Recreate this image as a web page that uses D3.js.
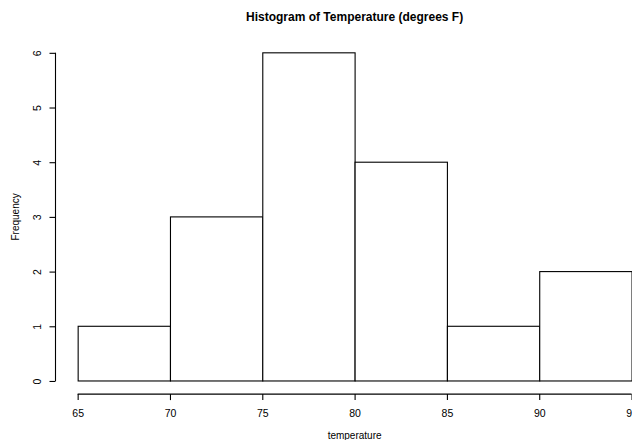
<!DOCTYPE html>
<html><head><meta charset="utf-8">
<script src="https://cdn.jsdelivr.net/npm/d3@7"></script>
<style>body{margin:0;background:#fff}svg{display:block}text{font-family:"Liberation Sans",Arial,sans-serif}</style>
</head><body>
<script>
const binStarts = [65, 70, 75, 80, 85, 90];
const binEnds = [70, 75, 80, 85, 90, 95];
const counts = [1, 3, 6, 4, 1, 2];
const xTicks = [65, 70, 75, 80, 85, 90, 95];
const yTicks = [0, 1, 2, 3, 4, 5, 6];
const title = "Histogram of Temperature (degrees F)";
const xTitle = "temperature";
const yTitle = "Frequency";

const W = 632, H = 440;
const FONT = '"Liberation Sans",Arial,sans-serif';
const svg = d3.select("body").append("svg").attr("width", W).attr("height", H);

const x = d3.scaleLinear().domain([63.8, 96.2]).range([55.5, 653.7]);
const y = d3.scaleLinear().domain([-0.24, 6.24]).range([394.1, 39.7]);

// bars
svg.append("g").selectAll("rect").data(counts).join("rect")
  .attr("x", (d, i) => x(binStarts[i]) + 0.5)
  .attr("y", d => y(d))
  .attr("width", (d, i) => x(binEnds[i]) - x(binStarts[i]))
  .attr("height", d => y(0) - y(d))
  .attr("fill", "#fff").attr("stroke", "#000").attr("stroke-width", 1.1);

// x axis
const xa = d3.axisBottom(x).tickValues(xTicks).tickSize(6).tickPadding(9).tickFormat(d3.format("d"));
const gx = svg.append("g").attr("transform", `translate(0,${y(-0.24)})`).call(xa);
gx.select(".domain").remove();
gx.append("line").attr("x1", x(xTicks[0])).attr("x2", x(xTicks[xTicks.length-1]))
  .attr("stroke", "#000").attr("stroke-width", 1.1);
gx.selectAll(".tick line").attr("stroke", "#000").attr("stroke-width", 1.1);
gx.selectAll(".tick text").attr("font-size", 10.5).attr("fill", "#000").style("font-family", FONT);

// y axis
const ya = d3.axisLeft(y).tickValues(yTicks).tickSize(6).tickPadding(0).tickFormat(d3.format("d"));
const gy = svg.append("g").attr("transform", `translate(${x(63.8)},0)`).call(ya);
gy.select(".domain").remove();
gy.append("line").attr("y1", y(yTicks[0])).attr("y2", y(yTicks[yTicks.length-1]))
  .attr("stroke", "#000").attr("stroke-width", 1.1);
gy.selectAll(".tick line").attr("stroke", "#000").attr("stroke-width", 1.1);
gy.selectAll(".tick text").attr("font-size", 10.5).attr("fill", "#000")
  .attr("x", null)
  .attr("text-anchor", "middle")
  .attr("transform", "translate(-18,0) rotate(-90)")
  .attr("dy", "0.35em")
  .style("font-family", FONT);

const cx = (x.range()[0] + x.range()[1]) / 2;
const cy = (y.range()[0] + y.range()[1]) / 2;

svg.append("text").attr("x", cx).attr("y", 20.5).attr("text-anchor", "middle")
  .attr("font-size", 12).attr("font-weight", "bold").text(title);
svg.append("text").attr("x", cx).attr("y", 438.5).attr("text-anchor", "middle")
  .attr("font-size", 10).text(xTitle);
svg.append("text").attr("transform", `translate(18.5,${cy}) rotate(-90)`).attr("text-anchor", "middle")
  .attr("font-size", 10).text(yTitle);
</script>
</body></html>
